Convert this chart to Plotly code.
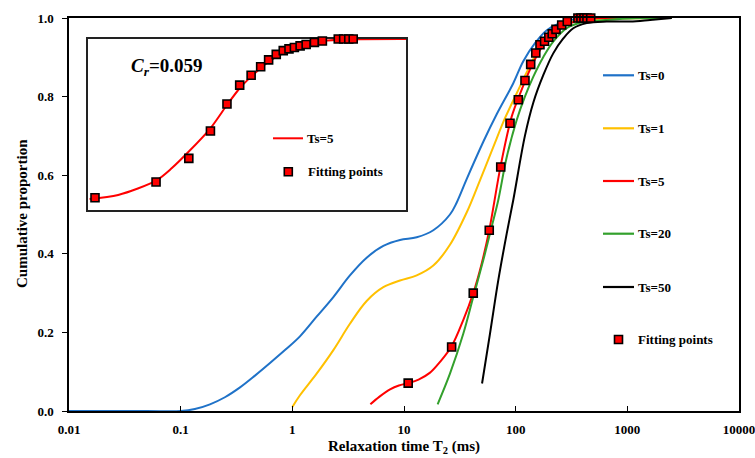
import plotly.graph_objects as go

# ---------------- data ----------------
BLUE_T = [0.01, 0.05, 0.1, 0.134, 0.183, 0.249, 0.34, 0.463, 0.631, 0.859, 1.17, 1.65, 2.33, 3.28, 4.63,
          6.53, 9.21, 13.0, 18.3, 25.8, 29.6, 36.4, 51.3, 67.6, 95.2, 117, 149, 190, 249, 377, 1000, 2500]
BLUE_V = [0, 0, 0, 0.005, 0.017, 0.035, 0.06, 0.09, 0.122, 0.155, 0.19, 0.24, 0.29, 0.345, 0.39,
          0.42, 0.435, 0.442, 0.46, 0.50, 0.53, 0.59, 0.685, 0.755, 0.834, 0.89, 0.936, 0.969, 0.987, 0.999, 1.0, 1.0]

YELLOW_T = [1.0, 1.17, 1.65, 2.33, 3.28, 4.63, 6.53, 9.21, 13.0, 18.3, 25.8, 36.4, 47.9, 63.1, 80.2,
            102, 126, 154, 190, 249, 328, 463, 744, 2500]
YELLOW_V = [0.01, 0.04, 0.095, 0.155, 0.222, 0.28, 0.315, 0.332, 0.345, 0.37, 0.423, 0.505, 0.587, 0.672, 0.745,
            0.808, 0.863, 0.910, 0.948, 0.978, 0.991, 0.997, 0.999, 1.0]

RED_T = [5.0, 6.0, 7.5, 9.0, 10.9, 13.5, 17.0, 21.0, 26.7, 34.0, 41.7, 49.6, 58.0, 73.5, 92.1, 113, 134, 165,
         203, 267, 377, 600, 2500]
RED_V = [0.017, 0.036, 0.055, 0.065, 0.071, 0.080, 0.097, 0.125, 0.165, 0.232, 0.300, 0.375, 0.46, 0.625, 0.749,
         0.817, 0.868, 0.918, 0.952, 0.978, 0.995, 1.0, 1.0]

GREEN_T = [20, 25.8, 34.0, 41.7, 51.3, 61.0, 69.9, 83, 102, 121, 144, 177, 217, 286, 377, 532, 1057, 2500]
GREEN_V = [0.017, 0.095, 0.197, 0.290, 0.384, 0.469, 0.537, 0.645, 0.740, 0.800, 0.851, 0.901, 0.940, 0.974,
           0.988, 0.993, 0.999, 1.0]

BLACK_T = [50, 58.9, 69.9, 83.2, 95.2, 121, 144, 177, 217, 267, 328, 433, 653, 1057, 1600, 2500]
BLACK_V = [0.070, 0.197, 0.333, 0.452, 0.537, 0.70, 0.785, 0.855, 0.910, 0.948, 0.974, 0.987, 0.991, 0.991, 0.995, 1.0]

FIT_T = [10.9, 26.7, 41.7, 58.0, 73.5, 89.0, 105.6, 121.2, 136.3, 151.4, 165.1, 181.5, 198.1, 212.4, 229.7,
         258.4, 289.9, 361, 384, 409, 435, 470]
FIT_V = [0.071, 0.163, 0.300, 0.460, 0.621, 0.732, 0.792, 0.841, 0.882, 0.911, 0.932, 0.941, 0.951, 0.960,
         0.971, 0.982, 0.991, 1.0, 1.0, 1.0, 1.0, 1.0]

# inset (normalised units)
INSET_X = [0.005, 0.095, 0.214, 0.263, 0.317, 0.385, 0.437, 0.477, 0.513, 0.568, 0.619, 0.672, 0.724, 0.787, 1.0]
INSET_Y = [0.532, 0.544, 0.586, 0.622, 0.671, 0.739, 0.807, 0.856, 0.890, 0.934, 0.961, 0.980, 0.992, 0.998, 1.0]
INSET_FIT_X = [0.022, 0.214, 0.317, 0.385, 0.437, 0.477, 0.513, 0.543, 0.568, 0.592, 0.614, 0.632, 0.649,
               0.667, 0.686, 0.712, 0.737, 0.787, 0.804, 0.820, 0.834]
INSET_FIT_Y = [0.536, 0.582, 0.651, 0.731, 0.810, 0.865, 0.894, 0.919, 0.939, 0.955, 0.966, 0.971, 0.975,
               0.980, 0.984, 0.990, 0.994, 1.0, 1.0, 1.0, 1.0]

X_TICKS = [0.01, 0.1, 1, 10, 100, 1000, 10000]
X_TICK_TEXT = ["0.01", "0.1", "1", "10", "100", "1000", "10000"]
Y_TICKS = [0, 0.2, 0.4, 0.6, 0.8, 1.0]
Y_TICK_TEXT = ["0.0", "0.2", "0.4", "0.6", "0.8", "1.0"]

SERIES = [("Ts=0", BLUE_T, BLUE_V, "#1f72c8"),
          ("Ts=1", YELLOW_T, YELLOW_V, "#ffc000"),
          ("Ts=5", RED_T, RED_V, "#ff0000"),
          ("Ts=20", GREEN_T, GREEN_V, "#33a02c"),
          ("Ts=50", BLACK_T, BLACK_V, "#000000")]

# ---------------- layout geometry (pixels) ----------------
W, H = 755, 458
L, R, T, B = 69, 739, 18, 411
FONT = "Liberation Serif, Times New Roman, DejaVu Serif, serif"


def pxx(x):
    return (x - L) / (R - L)


def pxy(y):
    return (B - y) / (B - T)


fig = go.Figure()
for name, xs, ys, col in SERIES:
    fig.add_trace(go.Scatter(x=xs, y=ys, mode="lines", name=name,
                             line=dict(color=col, width=2, shape="spline", smoothing=1.0),
                             showlegend=False))
fig.add_trace(go.Scatter(x=FIT_T, y=FIT_V, mode="markers", name="Fitting points",
                         marker=dict(symbol="square", size=8, color="#ff0000",
                                     line=dict(color="#000000", width=1.6)),
                         cliponaxis=False, showlegend=False))

# inset
fig.add_trace(go.Scatter(x=INSET_X, y=INSET_Y, mode="lines", xaxis="x2", yaxis="y2",
                         line=dict(color="#ff0000", width=2, shape="spline", smoothing=0.8),
                         showlegend=False))
fig.add_trace(go.Scatter(x=INSET_FIT_X, y=INSET_FIT_Y, mode="markers", xaxis="x2", yaxis="y2",
                         marker=dict(symbol="square", size=8, color="#ff0000",
                                     line=dict(color="#000000", width=1.6)),
                         cliponaxis=False, showlegend=False))

tickfont = dict(family=FONT, size=13, color="#000000", weight="bold")
fig.update_layout(
    width=W, height=H,
    margin=dict(l=L, r=W - R, t=T, b=H - B, autoexpand=False),
    paper_bgcolor="white", plot_bgcolor="white",
    showlegend=False,
    font=dict(family=FONT),
    xaxis=dict(type="log", range=[-2, 4], tickvals=X_TICKS, ticktext=X_TICK_TEXT,
               ticks="inside", ticklen=5, tickwidth=1.3, tickcolor="#000",
               showline=True, mirror=True, linecolor="#000", linewidth=1.5,
               showgrid=False, zeroline=False, tickfont=tickfont, ticklabelstandoff=6,
               ticklabeloverflow="allow", automargin=False),
    yaxis=dict(range=[0, 1], tickvals=Y_TICKS, ticktext=Y_TICK_TEXT,
               ticks="outside", ticklen=5, tickwidth=1.3, tickcolor="#000",
               showline=True, mirror=True, linecolor="#000", linewidth=1.5,
               showgrid=False, zeroline=False, tickfont=tickfont, ticklabelstandoff=6,
               automargin=False),
    xaxis2=dict(domain=[pxx(88), pxx(406)], anchor="y2", range=[0, 1],
                showticklabels=False, ticks="", showgrid=False, zeroline=False,
                showline=True, mirror=True, linecolor="#222", linewidth=1.5, layer="below traces"),
    yaxis2=dict(domain=[pxy(210), pxy(39)], anchor="x2", range=[0.5, 1.0],
                showticklabels=False, ticks="", showgrid=False, zeroline=False,
                showline=True, mirror=True, linecolor="#222", linewidth=1.5, layer="below traces"),
)

shapes = []
annotations = []

# axis titles
annotations.append(dict(text="<b>Cumulative proportion</b>", xref="paper", yref="paper",
                        x=pxx(22), y=pxy(214), textangle=-90, showarrow=False,
                        xanchor="center", yanchor="middle",
                        font=dict(family=FONT, size=15, color="#000")))
annotations.append(dict(text="<b>Relaxation time T<sub>2</sub> (ms)</b>", xref="paper", yref="paper",
                        x=pxx(404), y=pxy(447), showarrow=False,
                        xanchor="center", yanchor="middle",
                        font=dict(family=FONT, size=15, color="#000")))

# main legend (drawn manually)
leg_y = [75.3, 128.3, 181, 233.7, 287]
for (name, _, _, col), yy in zip(SERIES, leg_y):
    shapes.append(dict(type="line", xref="paper", yref="paper",
                       x0=pxx(603), x1=pxx(634), y0=pxy(yy), y1=pxy(yy),
                       line=dict(color=col, width=2.2)))
    annotations.append(dict(text="<b>%s</b>" % name, xref="paper", yref="paper",
                            x=pxx(636), y=pxy(yy), showarrow=False, xanchor="left", yanchor="middle",
                            font=dict(family=FONT, size=13, color="#000")))
mx, my = 618.5, 339.5
shapes.append(dict(type="rect", xref="paper", yref="paper",
                   x0=pxx(mx - 4), x1=pxx(mx + 4), y0=pxy(my + 4), y1=pxy(my - 4),
                   fillcolor="#ff0000", line=dict(color="#000", width=1.6)))
annotations.append(dict(text="<b>Fitting points</b>", xref="paper", yref="paper",
                        x=pxx(636), y=pxy(my), showarrow=False, xanchor="left", yanchor="middle",
                        font=dict(family=FONT, size=13, color="#000")))

# inset legend
shapes.append(dict(type="line", xref="paper", yref="paper",
                   x0=pxx(273), x1=pxx(303), y0=pxy(138.3), y1=pxy(138.3),
                   line=dict(color="#ff0000", width=2)))
annotations.append(dict(text="<b>Ts=5</b>", xref="paper", yref="paper",
                        x=pxx(305), y=pxy(138.3), showarrow=False, xanchor="left", yanchor="middle",
                        font=dict(family=FONT, size=13, color="#000")))
imx, imy = 288.3, 171.7
shapes.append(dict(type="rect", xref="paper", yref="paper",
                   x0=pxx(imx - 4), x1=pxx(imx + 4), y0=pxy(imy + 4), y1=pxy(imy - 4),
                   fillcolor="#ff0000", line=dict(color="#000", width=1.6)))
annotations.append(dict(text="<b>Fitting points</b>", xref="paper", yref="paper",
                        x=pxx(306), y=pxy(imy), showarrow=False, xanchor="left", yanchor="middle",
                        font=dict(family=FONT, size=13, color="#000")))

# C_r label
annotations.append(dict(text="<b><i>C</i><sub><i>r</i></sub>=0.059</b>", xref="paper", yref="paper",
                        x=pxx(129), y=pxy(67), showarrow=False, xanchor="left", yanchor="middle",
                        font=dict(family=FONT, size=19, color="#000")))

fig.update_layout(shapes=shapes, annotations=annotations)
fig.write_html("out.html")
